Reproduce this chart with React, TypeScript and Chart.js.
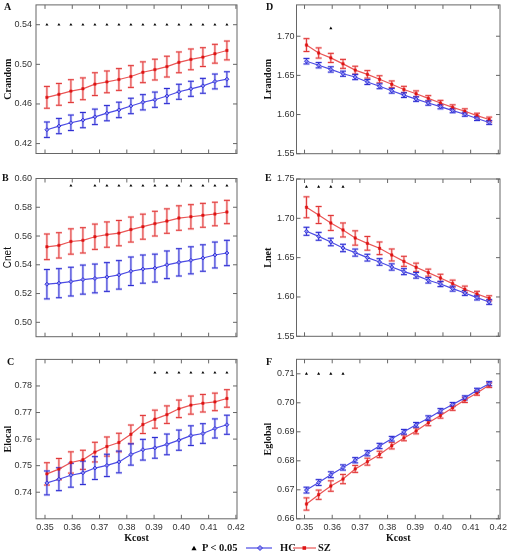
import React, { useEffect, useRef } from "react";
import { Chart, registerables } from "chart.js";

Chart.register(...registerables);

// ---------- data ----------
const kcost = [0.3507, 0.3551, 0.3595, 0.3639, 0.3683, 0.3727, 0.3771, 0.3815, 0.3859, 0.3903, 0.3947, 0.3991, 0.4035, 0.4079, 0.4123, 0.4167];
const xTickValues = [0.35, 0.36, 0.37, 0.38, 0.39, 0.40, 0.41, 0.42];

// A: Crandom
const hcCrandom = [0.434, 0.4377, 0.441, 0.4437, 0.447, 0.4507, 0.454, 0.458, 0.4617, 0.4643, 0.468, 0.4723, 0.4753, 0.4783, 0.4827, 0.485];
const hcCrandomErr = [0.0078, 0.0077, 0.0078, 0.0077, 0.0078, 0.0077, 0.0078, 0.0078, 0.0077, 0.0077, 0.0076, 0.0076, 0.0076, 0.0075, 0.0075, 0.0075];
const szCrandom = [0.4667, 0.4697, 0.473, 0.4753, 0.48, 0.4823, 0.4847, 0.4877, 0.492, 0.4947, 0.4977, 0.502, 0.505, 0.5073, 0.5107, 0.514];
const szCrandomErr = [0.011, 0.011, 0.0115, 0.011, 0.0115, 0.011, 0.011, 0.011, 0.0105, 0.0105, 0.0105, 0.0105, 0.0105, 0.0095, 0.0095, 0.0095];
const sigCrandom = [0, 1, 2, 3, 4, 5, 6, 7, 8, 9, 10, 11, 12, 13, 14, 15];
const sigLevelCrandom = 0.54;
const yTicksCrandom = [0.42, 0.46, 0.5, 0.54];

// B: Cnet
const hcCnet = [0.5265, 0.5272, 0.5283, 0.5297, 0.5305, 0.5315, 0.533, 0.5355, 0.537, 0.5377, 0.54, 0.5417, 0.5431, 0.5447, 0.5468, 0.5482];
const hcCnetErr = [0.0102, 0.0101, 0.01, 0.0101, 0.01, 0.01, 0.0099, 0.0099, 0.0098, 0.0097, 0.0096, 0.0095, 0.0094, 0.0092, 0.009, 0.0088];
const szCnet = [0.5525, 0.5535, 0.5562, 0.557, 0.5595, 0.561, 0.562, 0.5645, 0.5665, 0.5686, 0.5704, 0.5725, 0.5734, 0.5744, 0.5753, 0.5767];
const szCnetErr = [0.0089, 0.0088, 0.0088, 0.0088, 0.0088, 0.0088, 0.0088, 0.0087, 0.0087, 0.0086, 0.0085, 0.0085, 0.0084, 0.0083, 0.0082, 0.0081];
const sigCnet = [2, 4, 5, 6, 7, 8, 9, 10, 11, 12, 13, 14, 15];
const sigLevelCnet = 0.595;
const yTicksCnet = [0.5, 0.52, 0.54, 0.56, 0.58, 0.6];

// C: Elocal
const hcElocal = [0.7435, 0.7449, 0.7464, 0.7473, 0.7491, 0.7501, 0.7514, 0.7542, 0.756, 0.7567, 0.758, 0.7596, 0.7613, 0.7621, 0.764, 0.7654];
const hcElocalErr = [0.0045, 0.0043, 0.0045, 0.0044, 0.0043, 0.0042, 0.0041, 0.004, 0.0039, 0.0039, 0.0039, 0.0038, 0.0037, 0.0037, 0.0036, 0.0036];
const szElocal = [0.7469, 0.7487, 0.7512, 0.7522, 0.7551, 0.7572, 0.7587, 0.7618, 0.7655, 0.7675, 0.7692, 0.7714, 0.7728, 0.7735, 0.774, 0.7753];
const szElocalErr = [0.0042, 0.004, 0.004, 0.0036, 0.0037, 0.0036, 0.0035, 0.0035, 0.0034, 0.0034, 0.0033, 0.0033, 0.0034, 0.0033, 0.0033, 0.0033];
const sigElocal = [9, 10, 11, 12, 13, 14, 15];
const sigLevelElocal = 0.785;
const yTicksElocal = [0.74, 0.75, 0.76, 0.77, 0.78];

// D: Lrandom
const hcLrandom = [1.6681, 1.663, 1.6576, 1.6521, 1.6479, 1.6416, 1.6361, 1.6303, 1.6248, 1.6197, 1.6147, 1.6101, 1.605, 1.6004, 1.595, 1.5899];
const hcLrandomErr = [0.0035, 0.0034, 0.0034, 0.0033, 0.0033, 0.0032, 0.0031, 0.003, 0.003, 0.0029, 0.0028, 0.0028, 0.0027, 0.0026, 0.0026, 0.0025];
const szLrandom = [1.6887, 1.6786, 1.6723, 1.6647, 1.6567, 1.6513, 1.645, 1.6387, 1.632, 1.6265, 1.6206, 1.6147, 1.6092, 1.6042, 1.5987, 1.5937];
const szLrandomErr = [0.0082, 0.0065, 0.0058, 0.0057, 0.005, 0.0048, 0.0045, 0.0042, 0.004, 0.0037, 0.0035, 0.0034, 0.0032, 0.0031, 0.003, 0.003];
const sigLrandom = [2];
const sigLevelLrandom = 1.71;
const yTicksLrandom = [1.55, 1.6, 1.65, 1.7];

// E: Lnet
const hcLnet = [1.6835, 1.6771, 1.6699, 1.6623, 1.6564, 1.65, 1.6445, 1.6381, 1.6322, 1.6275, 1.6212, 1.6165, 1.6106, 1.6051, 1.5992, 1.5936];
const hcLnetErr = [0.0051, 0.005, 0.0048, 0.0047, 0.0045, 0.0043, 0.0042, 0.004, 0.0038, 0.0036, 0.0035, 0.0033, 0.0032, 0.0031, 0.003, 0.003];
const szLnet = [1.714, 1.7042, 1.6941, 1.6852, 1.675, 1.6682, 1.6619, 1.6534, 1.6453, 1.6377, 1.6309, 1.6242, 1.617, 1.6098, 1.6038, 1.5983];
const szLnetErr = [0.0133, 0.0108, 0.0095, 0.0089, 0.0091, 0.0087, 0.008, 0.0076, 0.0064, 0.0053, 0.0045, 0.0047, 0.0044, 0.004, 0.0034, 0.0032];
const sigLnet = [0, 1, 2, 3];
const sigLevelLnet = 1.74;
const yTicksLnet = [1.55, 1.6, 1.65, 1.7, 1.75];

// F: Eglobal
const hcEglobal = [0.6699, 0.6725, 0.6752, 0.6777, 0.6802, 0.6826, 0.6851, 0.6876, 0.69, 0.6924, 0.6947, 0.6972, 0.6994, 0.7017, 0.7043, 0.7066];
const hcEglobalErr = [0.001, 0.001, 0.001, 0.0009, 0.0009, 0.0009, 0.0009, 0.0008, 0.0008, 0.0008, 0.0008, 0.0008, 0.0007, 0.0007, 0.0007, 0.0007];
const szEglobal = [0.6651, 0.6683, 0.6713, 0.6737, 0.6772, 0.6797, 0.6822, 0.6852, 0.6879, 0.6903, 0.6931, 0.6956, 0.6983, 0.701, 0.7034, 0.7061];
const szEglobalErr = [0.0021, 0.0016, 0.0018, 0.0016, 0.0012, 0.0012, 0.0011, 0.0011, 0.001, 0.001, 0.001, 0.0009, 0.0009, 0.0009, 0.0008, 0.0008];
const sigEglobal = [0, 1, 2, 3];
const sigLevelEglobal = 0.71;
const yTicksEglobal = [0.66, 0.67, 0.68, 0.69, 0.7, 0.71];

// ---------- styling ----------
const TICK_FONT = { family: '"Liberation Sans", Arial, sans-serif', size: 9 };
const TITLE_FONT = { family: '"Liberation Serif", "Times New Roman", serif', size: 10, weight: "bold" as const };
const CNET_FONT = { family: '"Liberation Sans", Arial, sans-serif', size: 10, weight: "normal" as const };
const FRAME = "#666";
const BLUE_LINE = "rgb(75,75,228)";
const RED_LINE = "rgb(234,85,85)";

type PanelCfg = {
  letter: string;
  letterPos: [number, number];
  yTitle: string;
  yTitleFont: any;
  hc: number[]; hcErr: number[]; sz: number[]; szErr: number[];
  sig: number[]; sigLevel: number;
  yTicks: number[]; yMin: number; yMax: number;
  xMin: number; xMax: number;
  showX: boolean;
  box: { x: number; y: number; w: number; h: number };
  plot: { l: number; t: number; r: number; b: number };
  yTitlePad: number;
  yTickPad: number;
};

const LEFT = { xMin: 0.3467, xMax: 0.4204, yTitlePad: 2, yTickPad: 4 };
const RIGHT = { xMin: 0.3471, xMax: 0.4206, yTitlePad: 7, yTickPad: 2 };

const panels: PanelCfg[] = [
  {
    letter: "A", letterPos: [4, 7], yTitle: "Crandom", yTitleFont: TITLE_FONT,
    hc: hcCrandom, hcErr: hcCrandomErr, sz: szCrandom, szErr: szCrandomErr,
    sig: sigCrandom, sigLevel: sigLevelCrandom, yTicks: yTicksCrandom, yMin: 0.41, yMax: 0.56,
    ...LEFT, showX: false,
    box: { x: 0, y: 0, w: 255, h: 170 }, plot: { l: 36, t: 3.3, r: 237, b: 153.5 },
  },
  {
    letter: "B", letterPos: [2, 178], yTitle: "Cnet", yTitleFont: CNET_FONT,
    hc: hcCnet, hcErr: hcCnetErr, sz: szCnet, szErr: szCnetErr,
    sig: sigCnet, sigLevel: sigLevelCnet, yTicks: yTicksCnet, yMin: 0.49, yMax: 0.6,
    ...LEFT, showX: false,
    box: { x: 0, y: 168, w: 255, h: 178 }, plot: { l: 36, t: 178.5, r: 237, b: 336.7 },
  },
  {
    letter: "C", letterPos: [7, 362], yTitle: "Elocal", yTitleFont: TITLE_FONT,
    hc: hcElocal, hcErr: hcElocalErr, sz: szElocal, szErr: szElocalErr,
    sig: sigElocal, sigLevel: sigLevelElocal, yTicks: yTicksElocal, yMin: 0.73, yMax: 0.79,
    ...LEFT, showX: true,
    box: { x: 0, y: 348, w: 255, h: 209 }, plot: { l: 36, t: 359.4, r: 237, b: 518.8 },
  },
  {
    letter: "D", letterPos: [266, 7], yTitle: "Lrandom", yTitleFont: TITLE_FONT,
    hc: hcLrandom, hcErr: hcLrandomErr, sz: szLrandom, szErr: szLrandomErr,
    sig: sigLrandom, sigLevel: sigLevelLrandom, yTicks: yTicksLrandom, yMin: 1.55, yMax: 1.74,
    ...RIGHT, showX: false,
    box: { x: 255, y: 0, w: 255, h: 170 }, plot: { l: 296.5, t: 3.3, r: 500, b: 153.7 },
  },
  {
    letter: "E", letterPos: [265, 178], yTitle: "Lnet", yTitleFont: TITLE_FONT,
    hc: hcLnet, hcErr: hcLnetErr, sz: szLnet, szErr: szLnetErr,
    sig: sigLnet, sigLevel: sigLevelLnet, yTicks: yTicksLnet, yMin: 1.55, yMax: 1.75,
    ...RIGHT, showX: false,
    box: { x: 255, y: 168, w: 255, h: 178 }, plot: { l: 296.5, t: 179, r: 500, b: 336.3 },
  },
  {
    letter: "F", letterPos: [266, 362], yTitle: "Eglobal", yTitleFont: TITLE_FONT,
    hc: hcEglobal, hcErr: hcEglobalErr, sz: szEglobal, szErr: szEglobalErr,
    sig: sigEglobal, sigLevel: sigLevelEglobal, yTicks: yTicksEglobal, yMin: 0.66, yMax: 0.715,
    ...RIGHT, showX: true,
    box: { x: 255, y: 348, w: 255, h: 209 }, plot: { l: 296.5, t: 359.3, r: 500, b: 518.8 },
  },
];

// ---------- plugin: error bars, frame, inward ticks, panel letter ----------
const decorPlugin = {
  id: "decor",
  beforeDatasetsDraw(chart: any) {
    const ctx = chart.ctx;
    const yScale = chart.scales.y;
    const order = [2, 1];
    ctx.save();
    for (const i of order) {
      const ds = chart.data.datasets[i];
      const errs: number[] | undefined = ds.errorBars;
      if (!errs) continue;
      const meta = chart.getDatasetMeta(i);
      const passes = [
        { w: 2.6, c: ds.errHalo },
        { w: 1, c: ds.errCore },
      ];
      for (const p of passes) {
        ctx.strokeStyle = p.c;
        ctx.lineWidth = p.w;
        ctx.beginPath();
        meta.data.forEach((pt: any, j: number) => {
          const v = ds.data[j].y;
          const e = errs[j];
          const x = pt.x;
          const y1 = yScale.getPixelForValue(v + e);
          const y2 = yScale.getPixelForValue(v - e);
          ctx.moveTo(x, y1);
          ctx.lineTo(x, y2);
          ctx.moveTo(x - 3, y1);
          ctx.lineTo(x + 3, y1);
          ctx.moveTo(x - 3, y2);
          ctx.lineTo(x + 3, y2);
        });
        ctx.stroke();
      }
    }
    ctx.restore();
  },
  afterDraw(chart: any, _args: any, opts: any) {
    const ctx = chart.ctx;
    const { left, top, right, bottom } = chart.chartArea;
    const xs = chart.scales.x;
    const ys = chart.scales.y;
    ctx.save();
    ctx.strokeStyle = FRAME;
    ctx.lineWidth = 1;
    ctx.strokeRect(left, top, right - left, bottom - top);
    ctx.beginPath();
    const TL = 4;
    xs.ticks.forEach((t: any) => {
      const px = xs.getPixelForValue(t.value);
      ctx.moveTo(px, bottom);
      ctx.lineTo(px, bottom - TL);
      ctx.moveTo(px, top);
      ctx.lineTo(px, top + TL);
    });
    ys.ticks.forEach((t: any) => {
      const py = ys.getPixelForValue(t.value);
      ctx.moveTo(left, py);
      ctx.lineTo(left + TL, py);
      ctx.moveTo(right, py);
      ctx.lineTo(right - TL, py);
    });
    ctx.stroke();
    if (opts && opts.letter) {
      ctx.fillStyle = "#111";
      ctx.font = 'bold 10px "Liberation Serif", "Times New Roman", serif';
      ctx.textAlign = "left";
      ctx.textBaseline = "middle";
      ctx.fillText(opts.letter, opts.lx, opts.ly);
    }
    ctx.restore();
  },
};

function Panel({ cfg }: { cfg: PanelCfg }) {
  const ref = useRef<HTMLCanvasElement>(null);
  useEffect(() => {
    const { box, plot } = cfg;
    const yWidth = plot.l - box.x;
    const padTop = plot.t - box.y;
    const padRight = box.x + box.w - plot.r;
    const xHeight = box.y + box.h - plot.b;
    const chart = new Chart(ref.current as HTMLCanvasElement, {
      type: "line",
      data: {
        datasets: [
          {
            label: "P < 0.05",
            data: cfg.sig.map((i) => ({ x: kcost[i], y: cfg.sigLevel })),
            showLine: false,
            pointStyle: "triangle",
            pointRadius: 1.8,
            pointBackgroundColor: "#000",
            pointBorderColor: "#000",
            pointBorderWidth: 0,
          } as any,
          {
            label: "HC",
            data: kcost.map((x, i) => ({ x, y: cfg.hc[i] })),
            borderColor: BLUE_LINE,
            borderWidth: 1.2,
            pointStyle: "rectRot",
            pointRadius: 2,
            pointBackgroundColor: "rgb(140,140,240)",
            pointBorderColor: "rgb(45,45,215)",
            pointBorderWidth: 0.9,
            errorBars: cfg.hcErr,
            errHalo: "rgba(130,130,240,0.38)",
            errCore: "rgb(45,45,210)",
          } as any,
          {
            label: "SZ",
            data: kcost.map((x, i) => ({ x, y: cfg.sz[i] })),
            borderColor: RED_LINE,
            borderWidth: 1.2,
            pointStyle: "rect",
            pointRadius: 1.7,
            pointBackgroundColor: "rgb(222,20,20)",
            pointBorderColor: "rgb(222,20,20)",
            pointBorderWidth: 0.5,
            errorBars: cfg.szErr,
            errHalo: "rgba(242,130,130,0.38)",
            errCore: "rgb(225,55,55)",
          } as any,
        ],
      },
      options: {
        animation: false,
        responsive: false,
        maintainAspectRatio: false,
        layout: { padding: { left: 0, top: padTop, right: padRight, bottom: 0 } },
        elements: { line: { tension: 0 } },
        plugins: {
          legend: { display: false },
          tooltip: { enabled: false },
          decor: { letter: cfg.letter, lx: cfg.letterPos[0] - box.x, ly: cfg.letterPos[1] - box.y },
        } as any,
        scales: {
          x: {
            type: "linear",
            min: cfg.xMin,
            max: cfg.xMax,
            grid: { display: false, drawTicks: false },
            border: { display: false },
            afterBuildTicks: (s: any) => {
              s.ticks = xTickValues.map((v) => ({ value: v }));
            },
            ticks: {
              display: cfg.showX,
              autoSkip: false,
              maxRotation: 0,
              padding: 3,
              color: "#333",
              font: TICK_FONT,
              callback: (v: any) => Number(v).toFixed(2),
            },
            title: {
              display: cfg.showX,
              text: "Kcost",
              color: "#111",
              font: TITLE_FONT,
              padding: { top: 0, bottom: 13 },
            },
            afterFit: (s: any) => {
              s.height = xHeight;
              s.paddingLeft = 0;
              s.paddingRight = 0;
            },
          },
          y: {
            type: "linear",
            min: cfg.yMin,
            max: cfg.yMax,
            grid: { display: false, drawTicks: false },
            border: { display: false },
            afterBuildTicks: (s: any) => {
              s.ticks = cfg.yTicks.map((v) => ({ value: v }));
            },
            ticks: {
              autoSkip: false,
              padding: cfg.yTickPad,
              color: "#333",
              font: TICK_FONT,
              callback: (v: any) => Number(v).toFixed(2),
            },
            title: {
              display: true,
              text: cfg.yTitle,
              color: "#111",
              font: cfg.yTitleFont,
              padding: { top: cfg.yTitlePad, bottom: 0 },
            },
            afterFit: (s: any) => {
              s.width = yWidth;
              s.paddingTop = 0;
              s.paddingBottom = 0;
            },
          },
        },
      },
      plugins: [decorPlugin as any],
    });
    return () => chart.destroy();
  }, [cfg]);
  return (
    <canvas
      ref={ref}
      width={cfg.box.w}
      height={cfg.box.h}
      style={{ position: "absolute", left: cfg.box.x, top: cfg.box.y, width: cfg.box.w, height: cfg.box.h }}
    />
  );
}

const legendText: React.CSSProperties = {
  position: "absolute",
  top: 541,
  fontFamily: '"Liberation Serif", "Times New Roman", serif',
  fontWeight: "bold",
  fontSize: 10.5,
  lineHeight: "14px",
  color: "#111",
  whiteSpace: "nowrap",
};

function Legend() {
  return (
    <>
      <svg style={{ position: "absolute", left: 191, top: 545 }} width={6} height={6}>
        <polygon points="3,0.8 5.6,5.2 0.4,5.2" fill="#000" />
      </svg>
      <div style={{ ...legendText, left: 202 }}>P &lt; 0.05</div>
      <svg style={{ position: "absolute", left: 246, top: 543 }} width={26} height={10}>
        <line x1={0} y1={5} x2={26} y2={5} stroke={BLUE_LINE} strokeWidth={1.2} />
        <polygon points="14,2.5 16.5,5 14,7.5 11.5,5" fill="rgb(140,140,240)" stroke="rgb(45,45,215)" strokeWidth={0.9} />
      </svg>
      <div style={{ ...legendText, left: 280 }}>HC</div>
      <svg style={{ position: "absolute", left: 293, top: 543 }} width={23} height={10}>
        <line x1={0} y1={5} x2={23} y2={5} stroke={RED_LINE} strokeWidth={1.2} />
        <rect x={9.5} y={3.2} width={3.6} height={3.6} fill="rgb(222,20,20)" />
      </svg>
      <div style={{ ...legendText, left: 318 }}>SZ</div>
    </>
  );
}

export default function App() {
  return (
    <div style={{ position: "absolute", left: 0, top: 0, width: 510, height: 557, background: "#fff", overflow: "hidden" }}>
      {panels.map((p) => (
        <Panel key={p.letter} cfg={p} />
      ))}
      <Legend />
    </div>
  );
}
